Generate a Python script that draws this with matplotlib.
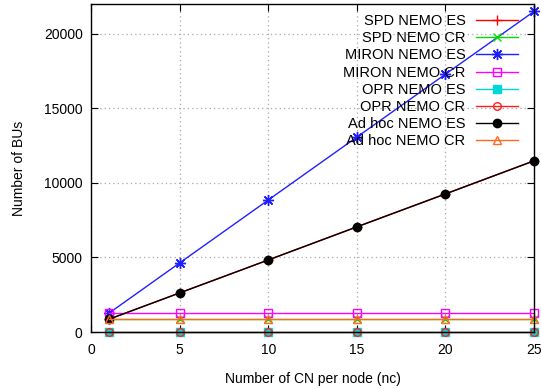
import matplotlib
matplotlib.use('Agg')
import matplotlib.pyplot as plt

plt.rcParams['font.family'] = ['Liberation Sans', 'DejaVu Sans']

# data
nc = [1, 5, 10, 15, 20, 25]
spd_es = [850, 2620, 4830, 7050, 9260, 11480]
spd_cr = [850, 850, 850, 850, 850, 850]
miron_es = [1250, 4630, 8850, 13070, 17290, 21500]
miron_cr = [1250, 1250, 1250, 1250, 1250, 1250]
opr_es = [0, 0, 0, 0, 0, 0]
opr_cr = [0, 0, 0, 0, 0, 0]
adhoc_es = [850, 2620, 4830, 7050, 9260, 11480]
adhoc_cr = [850, 850, 850, 850, 850, 850]

series = [
    ('SPD NEMO ES', spd_es, '#ff0000', '+', 'none', 7),
    ('SPD NEMO CR', spd_cr, '#00e000', 'x', 'none', 6),
    ('MIRON NEMO ES', miron_es, '#2020ff', (8, 2, 0), 'none', 8),
    ('MIRON NEMO CR', miron_cr, '#ff00ff', 's', 'none', 5.5),
    ('OPR NEMO ES', opr_es, '#00d8d8', 's', 'full', 5.5),
    ('OPR NEMO CR', opr_cr, '#ff2020', 'o', 'none', 5.5),
    ('Ad hoc NEMO ES', adhoc_es, '#000000', 'o', 'full', 6),
    ('Ad hoc NEMO CR', adhoc_cr, '#ff6a20', '^', 'none', 5.5),
]

fig = plt.figure(figsize=(5.41, 3.89), dpi=100)
ax = fig.add_axes([91/541, 1-332/389, (534-91)/541, (332-4)/389])

for label, y, col, mk, fill, ms in series:
    ax.plot(nc, y, color=col, lw=1, marker=mk, markersize=ms,
            fillstyle=fill, markeredgewidth=1, label=label, clip_on=False)

ax.set_xlim(0, 25)
ax.set_ylim(0, 22000)
ax.set_xticks([0, 5, 10, 15, 20, 25])
ax.set_yticks([0, 5000, 10000, 15000, 20000])
ax.grid(True, color='#a8a8a8', linestyle=(0, (1, 2.5)), linewidth=0.9)
ax.tick_params(direction='in', top=True, right=True, length=5,
               labelsize=10, colors='black')
ax.tick_params(axis='x', pad=8)
ax.tick_params(axis='y', pad=6)
for s in ax.spines.values():
    s.set_linewidth(1)

ax.set_xlabel('Number of CN per node (nc)', fontsize=10, labelpad=11)
ax.set_ylabel('Number of BUs', fontsize=10, labelpad=13)

leg = ax.legend(loc='upper right', bbox_to_anchor=(518/541, 1-14/389),
                bbox_transform=fig.transFigure, frameon=False,
                markerfirst=False, fontsize=10.5, borderpad=0,
                borderaxespad=0, labelspacing=0.22, handlelength=2.9,
                handletextpad=0.7)

fig.savefig('out.png', dpi=100)
